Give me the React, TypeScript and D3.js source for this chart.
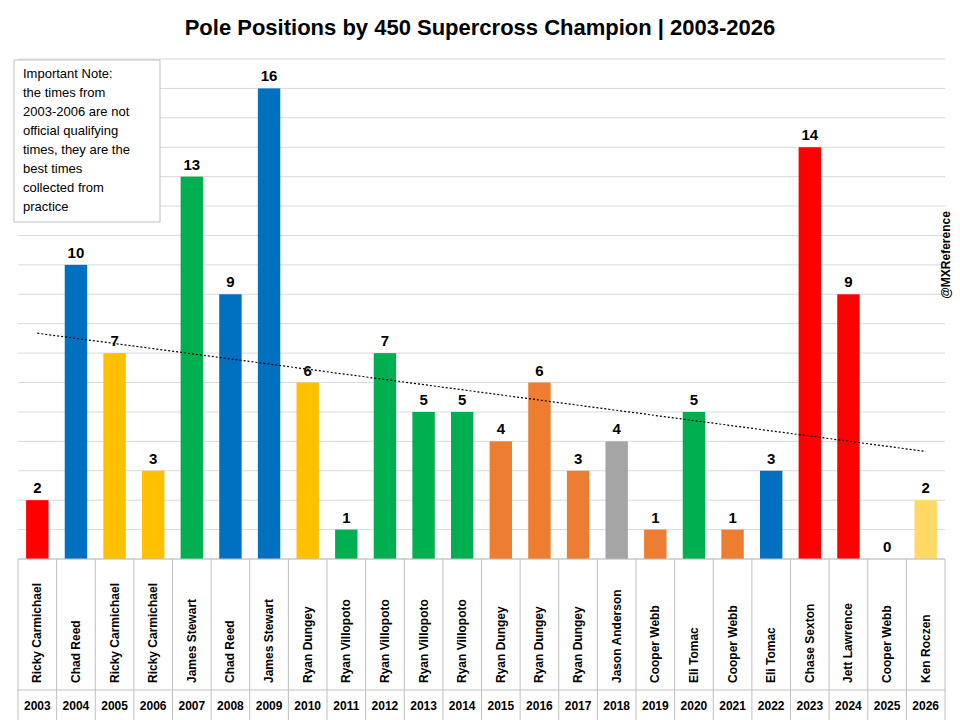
import * as d3 from "d3";

const years = ["2003","2004","2005","2006","2007","2008","2009","2010","2011","2012","2013","2014","2015","2016","2017","2018","2019","2020","2021","2022","2023","2024","2025","2026"];
const riders = ["Ricky Carmichael","Chad Reed","Ricky Carmichael","Ricky Carmichael","James Stewart","Chad Reed","James Stewart","Ryan Dungey","Ryan Villopoto","Ryan Villopoto","Ryan Villopoto","Ryan Villopoto","Ryan Dungey","Ryan Dungey","Ryan Dungey","Jason Anderson","Cooper Webb","Eli Tomac","Cooper Webb","Eli Tomac","Chase Sexton","Jett Lawrence","Cooper Webb","Ken Roczen"];
const poles = [2,10,7,3,13,9,16,6,1,7,5,5,4,6,3,4,1,5,1,3,14,9,0,2];
const colors = ["#FF0000","#0070C0","#FFC000","#FFC000","#00B050","#0070C0","#0070C0","#FFC000","#00B050","#00B050","#00B050","#00B050","#ED7D31","#ED7D31","#ED7D31","#A5A5A5","#ED7D31","#00B050","#ED7D31","#0070C0","#FF0000","#FF0000","#FFD966","#FFD966"];
const noteLines = ["Important Note:","the times from","2003-2006 are not","official qualifying","times, they are the","best times","collected from","practice"];

export default function App() {
  const W = 960, H = 720;
  const left = 18, right = 945, top = 59, bottom = 559;
  const x = d3.scaleBand<string>().domain(years).range([left, right]).paddingInner(0.42).paddingOuter(0.21);
  const xb = d3.scaleBand<string>().domain(years).range([left, right]);
  const y = d3.scaleLinear().domain([0, 17]).range([bottom, top]);
  const idx = poles.map((_, i) => i + 1);
  const mx = d3.mean(idx)!, my = d3.mean(poles)!;
  const slope = d3.sum(idx, (v, i) => (v - mx) * (poles[i] - my)) / d3.sum(idx, v => (v - mx) ** 2);
  const icpt = my - slope * mx;
  const cx = (i: number) => xb(years[i])! + xb.bandwidth() / 2;
  const font = "'Liberation Sans', Arial, sans-serif";
  return (
    <svg width={W} height={H} style={{ position: "absolute", left: 0, top: 0, fontFamily: font }}>
      <rect width={W} height={H} fill="#fff" />
      <text x={W / 2} y={35} textAnchor="middle" fontSize={22} fontWeight="bold">Pole Positions by 450 Supercross Champion | 2003-2026</text>
      {y.ticks(17).map(t => (
        <line key={t} x1={left} x2={right} y1={y(t)} y2={y(t)} stroke="#d9d9d9" />
      ))}
      {poles.map((v, i) => (
        <g key={i}>
          <rect x={x(years[i])} y={y(v)} width={x.bandwidth()} height={bottom - y(v)} fill={colors[i]} />
          <text x={cx(i)} y={y(v) - 7} textAnchor="middle" fontSize={15} fontWeight="bold">{v}</text>
        </g>
      ))}
      <line x1={cx(0)} x2={cx(23)} y1={y(icpt + slope)} y2={y(icpt + slope * 24)} stroke="#000" strokeDasharray="2,2" strokeWidth={1.2} />
      <line x1={left} x2={right} y1={bottom} y2={bottom} stroke="#bfbfbf" />
      <line x1={left} x2={right} y1={690} y2={690} stroke="#bfbfbf" />
      {years.concat([""]).map((_, i) => {
        const xx = left + i * xb.bandwidth();
        return <line key={i} x1={xx} x2={xx} y1={bottom} y2={H} stroke="#bfbfbf" />;
      })}
      {riders.map((r, i) => (
        <text key={i} transform={`translate(${cx(i) + 4},683) rotate(-90)`} fontSize={12} fontWeight="bold">{r}</text>
      ))}
      {years.map((yr, i) => (
        <text key={yr} x={cx(i)} y={710} textAnchor="middle" fontSize={12} fontWeight="bold">{yr}</text>
      ))}
      <rect x={14} y={60} width={146} height={162} fill="#fff" stroke="#bfbfbf" />
      {noteLines.map((l, i) => (
        <text key={i} x={23} y={78 + i * 19} fontSize={13}>{l}</text>
      ))}
      <text transform="translate(950,255) rotate(-90)" textAnchor="middle" fontSize={12} fontWeight="bold">@MXReference</text>
    </svg>
  );
}
